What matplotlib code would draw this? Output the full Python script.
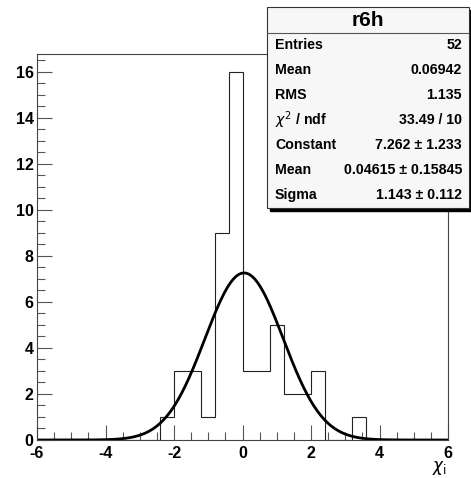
import numpy as np
import matplotlib.pyplot as plt
from matplotlib.patches import Rectangle
from matplotlib.ticker import MultipleLocator

# histogram r6h: 30 bins of width 0.4 from -6 to 6
bin_edges = np.linspace(-6, 6, 31)
counts = [0, 0, 0, 0, 0, 0, 0, 0, 0,
          1, 3, 3, 1, 9, 16, 3, 3, 5, 2, 2, 3, 0, 0, 1,
          0, 0, 0, 0, 0, 0]

# gaussian fit parameters
fit_const = 7.262
fit_mean = 0.04615
fit_sigma = 1.143

stats_rows = [
    ("Entries", "52"),
    ("Mean", "0.06942"),
    ("RMS", "1.135"),
    (r"$\chi^{2}$ / ndf", "33.49 / 10"),
    ("Constant", "7.262 \u00b1 1.233"),
    ("Mean", "0.04615 \u00b1 0.15845"),
    ("Sigma", "1.143 \u00b1 0.112"),
]

W, H = 471, 478
plt.rcParams['font.family'] = ['Liberation Sans', 'DejaVu Sans']
plt.rcParams['axes.unicode_minus'] = False
fig = plt.figure(figsize=(W / 100, H / 100), dpi=100)


def fx(x):
    return x / W


def fy(y):
    return 1 - y / H


ax = fig.add_axes([fx(37), fy(440), fx(448) - fx(37), fy(54) - fy(440)])
ax.stairs(counts, bin_edges, color='#222222', lw=0.8)

xs = np.linspace(-6, 6, 500)
ax.plot(xs, fit_const * np.exp(-0.5 * ((xs - fit_mean) / fit_sigma) ** 2),
        color='black', lw=2)

ax.set_xlim(-6, 6)
ax.set_ylim(0, 16.78)
ax.xaxis.set_major_locator(MultipleLocator(2))
ax.xaxis.set_minor_locator(MultipleLocator(0.5))
ax.yaxis.set_major_locator(MultipleLocator(2))
ax.yaxis.set_minor_locator(MultipleLocator(0.5))
ax.tick_params(which='both', direction='in', top=False, right=False,
               width=0.8, color='#555555')
ax.tick_params(which='major', length=11, labelsize=11.5)
ax.tick_params(axis='x', which='major', pad=4.5)
ax.tick_params(axis='y', which='major', pad=2.5)
ax.tick_params(which='minor', length=5.5)
for lab in ax.get_xticklabels() + ax.get_yticklabels():
    lab.set_fontweight('bold')
for s in ax.spines.values():
    s.set_linewidth(0.8)
    s.set_color('#444444')

fig.text(fx(447), fy(468), r"$\chi_{\mathrm{i}}$", ha='right', va='center',
         fontsize=12)

# stats box with shadow
bx0, bx1, by0, by1 = 267, 469, 7, 208
fig.patches.append(Rectangle((fx(bx0 + 3), fy(by1 + 3)), fx(bx1 - bx0), fy(by0) - fy(by1),
                             transform=fig.transFigure, color='black', zorder=5))
fig.patches.append(Rectangle((fx(bx0), fy(by1)), fx(bx1 - bx0), fy(by0) - fy(by1),
                             transform=fig.transFigure, facecolor='#f7f7f7',
                             edgecolor='#333333', lw=0.8, zorder=6))
fig.lines.append(plt.Line2D([fx(bx0), fx(bx1)], [fy(33), fy(33)],
                            transform=fig.transFigure, color='#555555', lw=0.8, zorder=7))
fig.text(fx((bx0 + bx1) / 2), fy(20), "r6h", ha='center', va='center',
         fontsize=15, fontweight='bold', zorder=8)
for i, (name, val) in enumerate(stats_rows):
    y = fy(45 + 25 * i)
    fig.text(fx(275), y, name, ha='left', va='center', fontsize=10.2,
             fontweight='bold', zorder=8)
    fig.text(fx(462), y, val, ha='right', va='center', fontsize=10.2,
             fontweight='bold', zorder=8)

fig.savefig('out.png', dpi=100)
